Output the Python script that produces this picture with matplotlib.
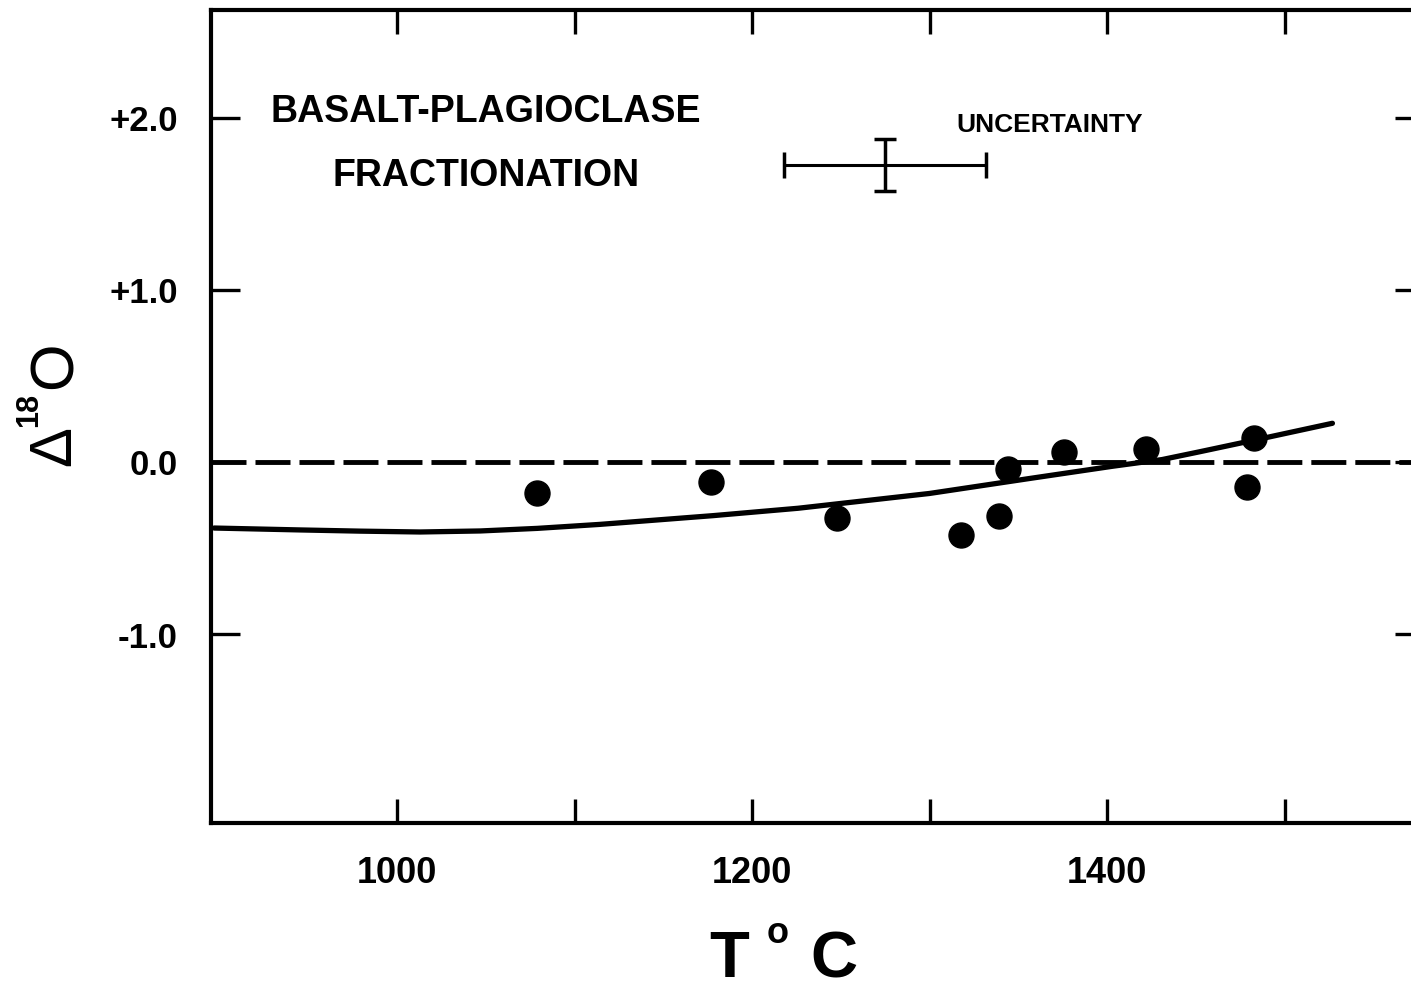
import numpy as np
import matplotlib
matplotlib.use('Agg')
import matplotlib.pyplot as plt
from matplotlib.ticker import FixedLocator, FixedFormatter

W, H = 1411, 988

# measured points (T in deg C, Delta 18O)
temp_pts = [1079, 1177, 1248, 1318, 1339, 1344, 1376, 1422, 1479, 1483]
d18o_pts = [-0.18, -0.115, -0.32, -0.42, -0.31, -0.035, 0.063, 0.077, -0.14, 0.141]

# fitted curve as drawn
temp_curve = [897, 945, 979, 1013, 1047, 1079, 1114, 1178, 1226, 1300, 1357, 1403,
              1431, 1452, 1488, 1527]
d18o_curve = [-0.381, -0.392, -0.399, -0.404, -0.398, -0.383, -0.360, -0.309, -0.266,
              -0.180, -0.092, -0.022, 0.017, 0.062, 0.141, 0.228]

# uncertainty cross
unc_x, unc_y = 1275, 1.73
unc_xerr, unc_yerr = 57, 0.15

xtick_major = [1000, 1200, 1400]
xtick_minor = [1100, 1300, 1500]
ytick_vals = [2.0, 1.0, 0.0, -1.0]
ytick_labels = ['+2.0', '+1.0', '0.0', '-1.0']

plt.rcParams['font.family'] = ['Liberation Sans', 'DejaVu Sans']


def px(x, y):
    return x / W, 1 - y / H


fig = plt.figure(figsize=(W / 100, H / 100), dpi=100)
left, right, top, bottom = 211, 1424, 10, 823
ax = fig.add_axes([left / W, 1 - bottom / H, (right - left) / W, (bottom - top) / H])

ax.set_xlim(1000 - (397 - left) / 1.775, 1000 + (right - 397) / 1.775)
ax.set_ylim(-(bottom - 462.5) / 172, (462.5 - top) / 172)

ax.axhline(0, color='black', lw=3.5, dashes=(7.2, 1.85), dash_capstyle='butt', zorder=1)
ax.plot(temp_curve, d18o_curve, color='black', lw=3.8, solid_capstyle='round',
        solid_joinstyle='round', zorder=2)
ax.plot(temp_pts, d18o_pts, 'o', color='black', ms=18, zorder=3)

ax.errorbar(unc_x, unc_y, xerr=unc_xerr, fmt='none', ecolor='black', elinewidth=2.2,
            capsize=9.5, capthick=2.5)
ax.errorbar(unc_x, unc_y, yerr=unc_yerr, fmt='none', ecolor='black', elinewidth=2.5,
            capsize=8, capthick=2.5)

ax.xaxis.set_major_locator(FixedLocator(xtick_major))
ax.xaxis.set_minor_locator(FixedLocator(xtick_minor))
ax.yaxis.set_major_locator(FixedLocator(ytick_vals))
ax.yaxis.set_major_formatter(FixedFormatter(ytick_labels))

ax.tick_params(axis='x', which='both', direction='in', length=17, width=2.4,
               top=True, bottom=True, pad=24)
ax.tick_params(axis='x', which='major', labelsize=26)
ax.tick_params(axis='y', which='major', direction='in', length=21, width=2.4,
               left=True, right=True, pad=24, labelsize=25)
for lab in ax.get_xticklabels() + ax.get_yticklabels():
    lab.set_fontweight('bold')

for side in ['left', 'bottom', 'top']:
    ax.spines[side].set_linewidth(3)
ax.spines['right'].set_visible(False)

ax.text(*px(486, 112), 'BASALT-PLAGIOCLASE', transform=fig.transFigure,
        ha='center', va='center', fontsize=27, fontweight='bold')
ax.text(*px(486, 176), 'FRACTIONATION', transform=fig.transFigure,
        ha='center', va='center', fontsize=27, fontweight='bold')
ax.text(*px(1050, 125), 'UNCERTAINTY', transform=fig.transFigure,
        ha='center', va='center', fontsize=19, fontweight='bold')

# y label: Delta 18 O
fig.text(*px(70, 446.5), '\u0394', rotation=90, rotation_mode='anchor',
         ha='center', va='baseline', fontsize=43)
fig.text(*px(37, 410), '18', rotation=90, rotation_mode='anchor',
         ha='center', va='baseline', fontsize=22, fontweight='bold')
fig.text(*px(72, 365), 'O', rotation=90, rotation_mode='anchor',
         ha='center', va='baseline', fontsize=44)

# x label: T o C
fig.text(*px(729, 977), 'T', ha='center', va='baseline', fontsize=47, fontweight='bold')
fig.text(*px(777.5, 943), 'o', ha='center', va='baseline', fontsize=26, fontweight='bold')
fig.text(*px(834, 977), 'C', ha='center', va='baseline', fontsize=47, fontweight='bold')

fig.savefig('out.png', dpi=100)
